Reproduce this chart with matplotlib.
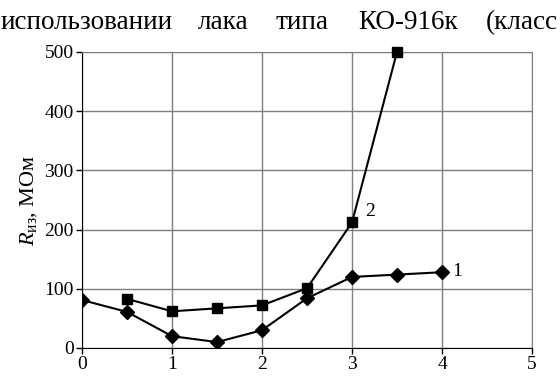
import matplotlib
matplotlib.use("Agg")
import matplotlib.pyplot as plt

plt.rcParams["font.family"] = ["Liberation Serif", "DejaVu Serif"]
plt.rcParams["mathtext.fontset"] = "custom"
plt.rcParams["mathtext.rm"] = "Liberation Serif"
plt.rcParams["mathtext.it"] = "Liberation Serif:italic"

# curve 1 (diamonds) and curve 2 (squares)
x1 = [0, 0.5, 1, 1.5, 2, 2.5, 3, 3.5, 4]
y1 = [81, 61, 20, 10, 30, 84, 120, 124, 128]
x2 = [0.5, 1, 1.5, 2, 2.5, 3, 3.5]
y2 = [83, 62, 67, 72, 101, 212, 500]

header_words = ["использовании", "лака", "типа", "КО-916к", "(класс"]
header_x = [1, 198, 276, 358, 486]

fig = plt.figure(figsize=(5.6, 3.76), dpi=100)
ax = fig.add_axes([82 / 560, 28 / 376, 450 / 560, 296 / 376])

ax.plot(x1, y1, color="black", lw=1.5, marker="D", ms=7, zorder=3)
ax.plot(x2, y2, color="black", lw=1.5, marker="s", ms=6.5, zorder=3, clip_on=False)

ax.set_xlim(0, 5)
ax.set_ylim(0, 500)
ax.set_xticks(range(0, 6))
ax.set_yticks(range(0, 501, 100))
ax.grid(True, color="#7f7f7f", lw=1)
ax.set_axisbelow(True)
for s in ["top", "right"]:
    ax.spines[s].set_color("#7f7f7f")
for s in ["left", "bottom"]:
    ax.spines[s].set_color("black")
ax.tick_params(labelsize=14, length=4, width=1, pad=2)

ax.set_ylabel(r"$R_{\mathrm{из}}$, МОм", fontsize=16, labelpad=4)

ax.text(3.2, 230, "2", fontsize=14, ha="center", va="center")
ax.text(4.17, 130, "1", fontsize=14, ha="center", va="center")

for w, xp in zip(header_words, header_x):
    fig.text(xp / 560, 1 - 29 / 376, w, fontsize=19.5, ha="left", va="baseline")

fig.savefig("out.png", dpi=100)
